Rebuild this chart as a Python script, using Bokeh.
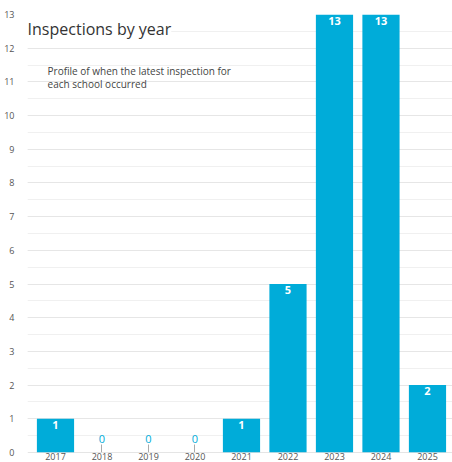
from bokeh.plotting import figure
from bokeh.models import ColumnDataSource, Range1d, SingleIntervalTicker, FixedTicker, Label, LinearAxis
from bokeh.embed import file_html
from bokeh.resources import INLINE

years = [2017, 2018, 2019, 2020, 2021, 2022, 2023, 2024, 2025]
counts = [1, 0, 0, 0, 1, 5, 13, 13, 2]
title_text = "Inspections by year"
subtitle_text = "Profile of when the latest inspection for\neach school occurred"

BAR = "#00acd9"
FONT = "Open Sans"

nz_years = [y for y, c in zip(years, counts) if c > 0]
nz_counts = [c for c in counts if c > 0]
z_years = [y for y, c in zip(years, counts) if c == 0]
z_counts = [c for c in counts if c == 0]

src = ColumnDataSource(dict(x=years, top=counts))
src_nz = ColumnDataSource(dict(x=nz_years, y=nz_counts, t=[str(c) for c in nz_counts]))
src_z = ColumnDataSource(dict(x=z_years, y=z_counts, t=[str(c) for c in z_counts]))

p = figure(width=452, height=462, output_backend="svg", toolbar_location=None,
           x_range=Range1d(2016.398, 2025.538), y_range=Range1d(0, 13),
           min_border_left=27, min_border_right=0, min_border_top=14, min_border_bottom=0)
p.outline_line_color = None
p.background_fill_color = "white"
p.border_fill_color = "white"

p.vbar(x="x", top="top", width=0.8, source=src, fill_color=BAR, line_color=None)

p.text(x="x", y="y", text="t", source=src_nz, text_color="white", text_font_size="11px",
       text_font_style="bold", text_align="center", text_baseline="top", y_offset=2,
       text_font={"value": FONT})
p.text(x="x", y="y", text="t", source=src_z, text_color=BAR, text_font_size="11px",
       text_align="center", text_baseline="bottom", y_offset=-10,
       text_font={"value": FONT})

# y axis
p.yaxis.ticker = SingleIntervalTicker(interval=1, num_minor_ticks=2)
p.yaxis.axis_line_color = None
p.yaxis.major_tick_line_color = None
p.yaxis.minor_tick_line_color = None
p.yaxis.major_tick_out = 0
p.yaxis.major_tick_in = 0
p.yaxis.major_label_standoff = 9
p.yaxis.major_label_text_font = FONT
p.yaxis.major_label_text_font_size = "9px"
p.yaxis.major_label_text_color = "#555555"

p.ygrid.grid_line_color = "#e6e6e6"
p.ygrid.minor_grid_line_color = "#f0f0f0"
p.xgrid.grid_line_color = None

# x axis line + inward ticks, drawn beneath the bars
p.xaxis.ticker = FixedTicker(ticks=years)
p.xaxis.level = "underlay"
p.xaxis.axis_line_color = "#cccccc"
p.xaxis.major_tick_line_color = "#aaaaaa"
p.xaxis.major_tick_line_width = 1
p.xaxis.minor_tick_line_color = None
p.xaxis.major_tick_in = 8
p.xaxis.major_tick_out = 0
p.xaxis.major_label_standoff = 0
p.xaxis.major_label_text_font_size = "1px"
p.xaxis.major_label_text_alpha = 0

# x axis labels
label_axis = LinearAxis(ticker=FixedTicker(ticks=years))
label_axis.major_label_overrides = {y: str(y) for y in years}
label_axis.axis_line_color = None
label_axis.major_tick_line_color = None
label_axis.minor_tick_line_color = None
label_axis.major_tick_in = 0
label_axis.major_tick_out = 0
label_axis.major_label_standoff = 0
label_axis.major_label_text_font = FONT
label_axis.major_label_text_font_size = "9px"
label_axis.major_label_text_color = "#555555"
p.add_layout(label_axis, "below")

p.add_layout(Label(x=2016.40, y=12.58, text=title_text, text_font=FONT, text_font_size="16px",
                   text_color="#333333", text_baseline="middle", text_align="left",
                   background_fill_color="white", background_fill_alpha=1.0))
p.add_layout(Label(x=2016.83, y=11.14, text=subtitle_text, text_font=FONT, text_font_size="10px",
                   text_color="#444444", text_baseline="middle", text_align="left",
                   text_line_height=0.95))

open("out.html", "w").write(file_html(p, INLINE))
